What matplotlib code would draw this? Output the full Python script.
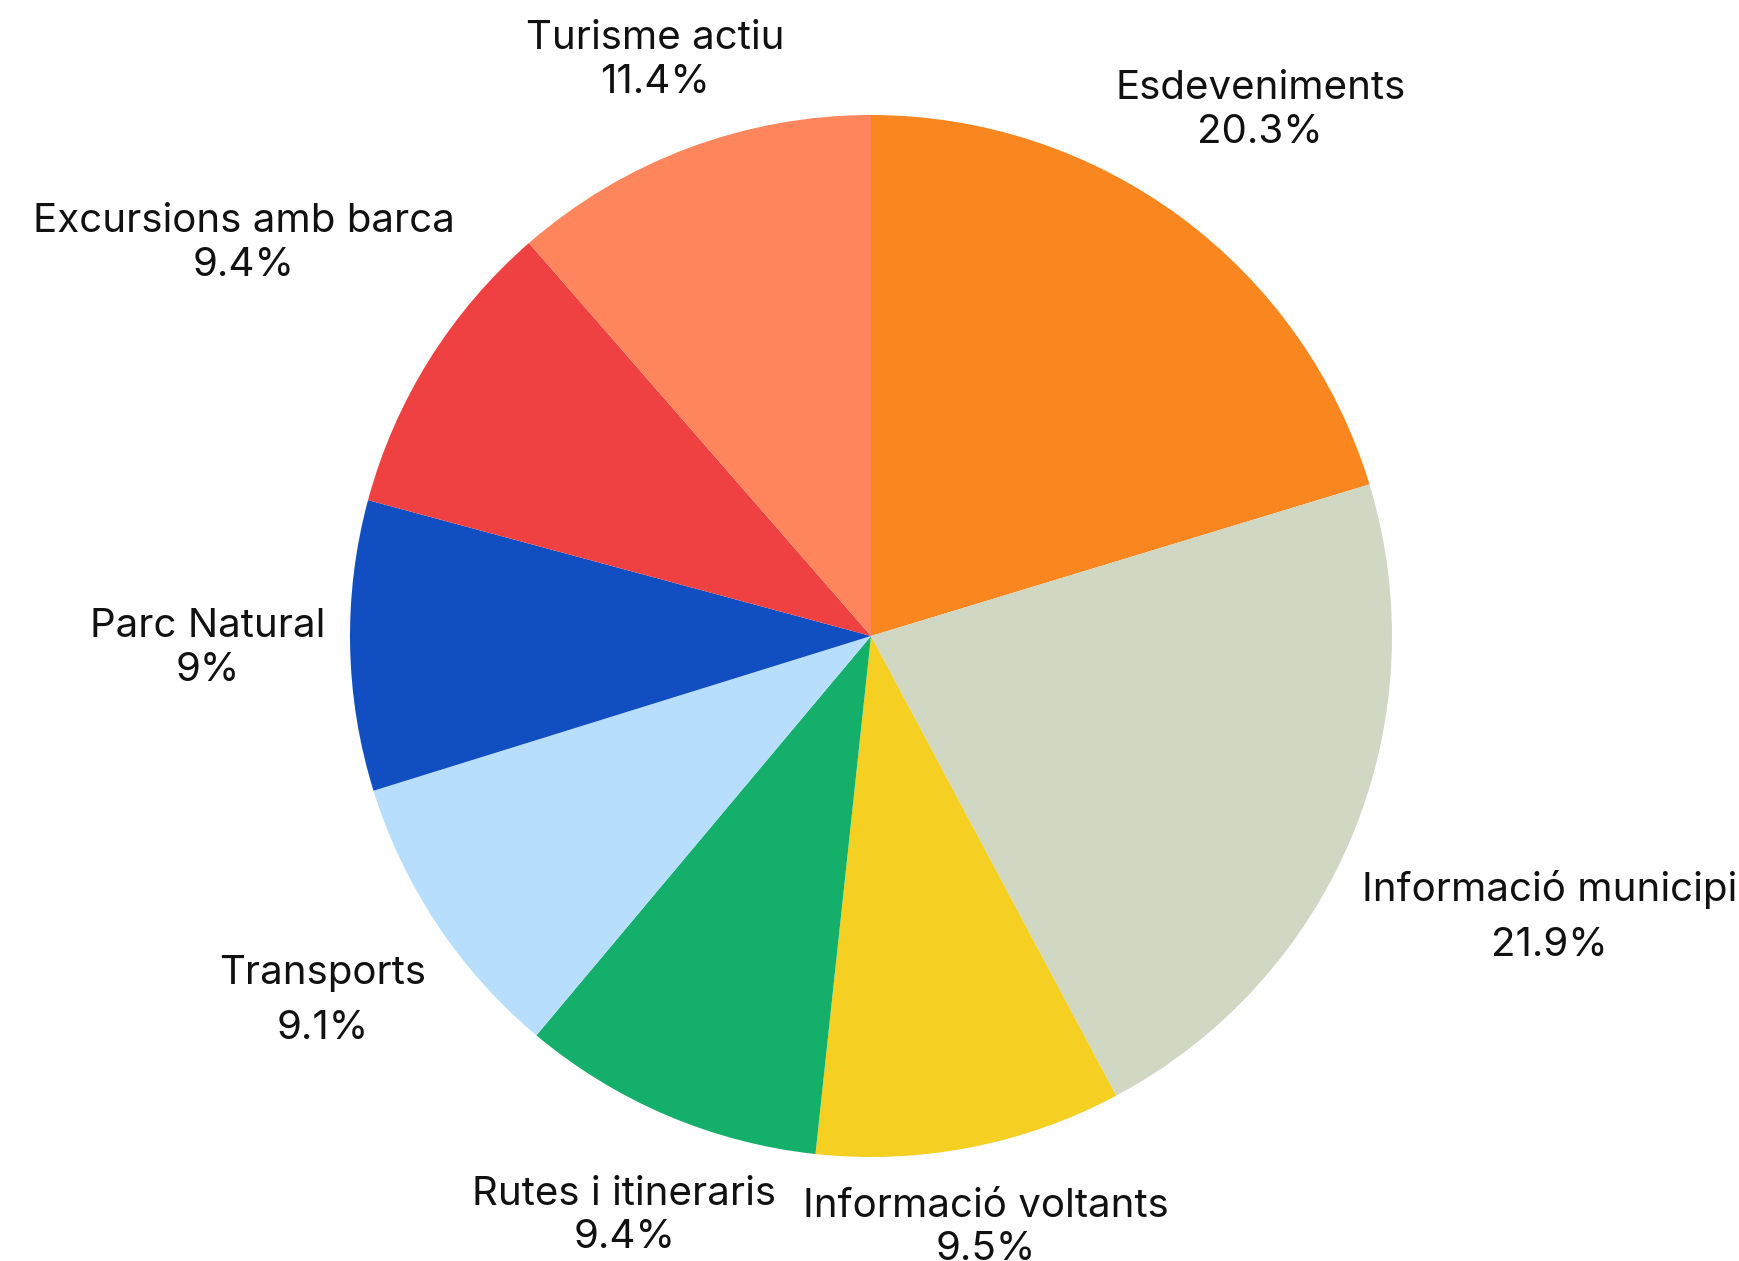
import numpy as np
import matplotlib
matplotlib.use("Agg")
import matplotlib.pyplot as plt

# -----------------------------
# Data
# -----------------------------
categories = ["Esdeveniments", "Informació municipi", "Informació voltants",
              "Rutes i itineraris", "Transports", "Parc Natural",
              "Excursions amb barca", "Turisme actiu"]
shares = [20.3, 21.9, 9.5, 9.4, 9.1, 9.0, 9.4, 11.4]
pct_labels = ["20.3%", "21.9%", "9.5%", "9.4%", "9.1%", "9%", "9.4%", "11.4%"]

colors = ["#FA861F", "#D0D8C3", "#F5CF22", "#15AF6C",
          "#B8DEFD", "#104EC1", "#EF4141", "#FF855C"]

# label distance (in radii) and line spacing per label
label_dist = [1.255, 1.41, 1.157, 1.21, 1.264, 1.274, 1.42, 1.18]
line_gap = [1.25, 1.6, 1.2, 1.2, 1.6, 1.25, 1.25, 1.25]

plt.rcParams["font.family"] = ["Inter", "DejaVu Sans"]

fig = plt.figure(figsize=(17.4, 12.61), dpi=100)
ax = fig.add_axes([0, 0, 1, 1])

wedges, _ = ax.pie(shares, colors=colors, startangle=90, counterclock=False,
                   radius=1.0, wedgeprops=dict(linewidth=0))

for w, name, pct, d, ls in zip(wedges, categories, pct_labels, label_dist, line_gap):
    ang = np.deg2rad((w.theta1 + w.theta2) / 2)
    ax.text(d * np.cos(ang), d * np.sin(ang), f"{name}\n{pct}",
            ha="center", va="center", fontsize=29, linespacing=ls,
            color="#111111")

cx, cy, r = 871, 636, 521
ax.set_aspect("auto")
ax.set_xlim(-cx / r, (1740 - cx) / r)
ax.set_ylim(-(1261 - cy) / r, cy / r)
ax.axis("off")

fig.savefig("out.png", dpi=100, facecolor="white")
